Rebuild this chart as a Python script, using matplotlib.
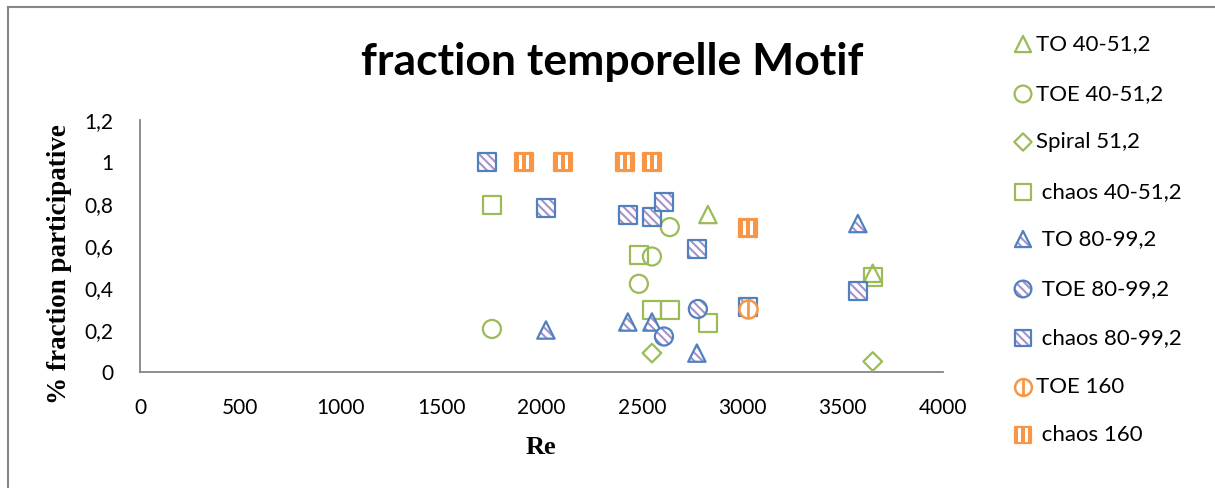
import matplotlib
matplotlib.use("Agg")
import matplotlib.pyplot as plt
from matplotlib.lines import Line2D
from matplotlib.markers import MarkerStyle
from matplotlib.path import Path

W, H = 1215, 488

# --- donnees (Re, fraction) ---
to_40_re = [2829, 3650]
to_40_fr = [0.75, 0.47]
toe_40_re = [1753, 2485, 2550, 2639]
toe_40_fr = [0.205, 0.42, 0.55, 0.69]
spiral_re = [2550, 3650]
spiral_fr = [0.09, 0.05]
chaos_40_re = [1753, 2485, 2550, 2639, 2829, 3650]
chaos_40_fr = [0.795, 0.557, 0.295, 0.295, 0.233, 0.452]
to_80_re = [2022, 2430, 2550, 2774, 3576]
to_80_fr = [0.20, 0.238, 0.238, 0.09, 0.707]
toe_80_re = [2779, 2610]
toe_80_fr = [0.30, 0.169]
chaos_80_re = [1728, 2022, 2430, 2550, 2610, 2774, 3028, 3576]
chaos_80_fr = [1.0, 0.78, 0.748, 0.738, 0.81, 0.585, 0.31, 0.385]
toe_160_re = [3028]
toe_160_fr = [0.30]
chaos_160_re = [1912, 2107, 2415, 2550, 3028]
chaos_160_fr = [1.0, 1.0, 1.0, 1.0, 0.686]

labels = ["TO 40-51,2", "TOE 40-51,2", "Spiral 51,2", " chaos 40-51,2",
          " TO 80-99,2", " TOE 80-99,2", " chaos 80-99,2", "TOE 160", " chaos 160"]

x_ticks = [0, 500, 1000, 1500, 2000, 2500, 3000, 3500, 4000]
x_tick_labels = ["0", "500", "1000", "1500", "2000", "2500", "3000", "3500", "4000"]
y_ticks = [0, 0.2, 0.4, 0.6, 0.8, 1.0, 1.2]
y_tick_labels = ["0", "0,2", "0,4", "0,6", "0,8", "1", "1,2"]

GREEN = "#9BBB59"
BLUE = "#4F81BD"
ORANGE = "#F79646"
PURPLE = "#A592CC"
GREY = "#868686"

plt.rcParams["font.family"] = ["Lato", "DejaVu Sans"]
plt.rcParams["hatch.linewidth"] = 1.5

# deux bandes verticales (marqueur "chaos 160")
stripe_verts = []
stripe_codes = []
for x0, x1 in [(-0.69, -0.25), (0.25, 0.69)]:
    stripe_verts += [(x0, -1), (x1, -1), (x1, 1), (x0, 1), (x0, -1)]
    stripe_codes += [Path.MOVETO, Path.LINETO, Path.LINETO, Path.LINETO, Path.CLOSEPOLY]
STRIPES = MarkerStyle(Path(stripe_verts, stripe_codes))


def draw_series(ax, xs, ys, kind, k=1.0, z=3):
    ms = {"tri": 12.5, "circ": 13.0, "diam": 9.5, "sq": 13.0}
    for x, y in zip(xs, ys):
        if kind.startswith("g_"):
            shape = kind[2:]
            m = {"tri": "^", "circ": "o", "diam": "D", "sq": "s"}[shape]
            ax.scatter([x], [y], s=(ms[shape] * k) ** 2, marker=m, facecolors="none",
                       edgecolors=GREEN, linewidths=1.6, zorder=z, clip_on=False)
        elif kind.startswith("b_"):
            shape = kind[2:]
            m = {"tri": "^", "circ": "o", "sq": "s"}[shape]
            s = (ms[shape] * k) ** 2
            ax.scatter([x], [y], s=s, marker=m, facecolors="white", edgecolors=PURPLE,
                       linewidths=0, hatch="\\\\\\\\", zorder=z, clip_on=False)
            ax.scatter([x], [y], s=s, marker=m, facecolors="none", edgecolors=BLUE,
                       linewidths=1.6, zorder=z, clip_on=False)
        elif kind == "o_circ":
            s = (ms["circ"] * k) ** 2
            ax.scatter([x], [y], s=s, marker="o", facecolors="white", edgecolors=ORANGE,
                       linewidths=1.8, zorder=z, clip_on=False)
            ax.scatter([x], [y], s=s * 0.9, marker="|", color=ORANGE,
                       linewidths=2.0, zorder=z, clip_on=False)
        elif kind == "o_sq":
            s = (ms["sq"] * k) ** 2
            ax.scatter([x], [y], s=s, marker="s", facecolors=ORANGE, edgecolors=ORANGE,
                       linewidths=1.6, zorder=z, clip_on=False)
            ax.scatter([x], [y], s=s * 0.64, marker=STRIPES, facecolors="white",
                       edgecolors="none", linewidths=0, zorder=z, clip_on=False)


series = [
    (to_40_re, to_40_fr, "g_tri"),
    (toe_40_re, toe_40_fr, "g_circ"),
    (spiral_re, spiral_fr, "g_diam"),
    (chaos_40_re, chaos_40_fr, "g_sq"),
    (to_80_re, to_80_fr, "b_tri"),
    (toe_80_re, toe_80_fr, "b_circ"),
    (chaos_80_re, chaos_80_fr, "b_sq"),
    (toe_160_re, toe_160_fr, "o_circ"),
    (chaos_160_re, chaos_160_fr, "o_sq"),
]

fig = plt.figure(figsize=(W / 100, H / 100), dpi=100)

# zone de trace
ax = fig.add_axes([140 / W, (H - 372) / H, (943 - 140) / W, (372 - 120) / H])
ax.set_xlim(0, 4000)
ax.set_ylim(0, 1.2)
for side in ["top", "right"]:
    ax.spines[side].set_visible(False)
for side in ["left", "bottom"]:
    ax.spines[side].set_color(GREY)
    ax.spines[side].set_linewidth(1.3)
ax.set_xticks(x_ticks, x_tick_labels)
ax.set_yticks(y_ticks, y_tick_labels)
ax.tick_params(axis="both", length=0, labelsize=15, colors="black")
ax.tick_params(axis="x", pad=19)
ax.tick_params(axis="y", pad=19)

for i, (xs, ys, kind) in enumerate(series):
    draw_series(ax, xs, ys, kind, z=3 + i)

fig.text(612 / W, 1 - 75 / H, "fraction temporelle Motif", fontsize=32,
         fontweight="bold", ha="center", va="baseline")
fig.text(541 / W, 1 - 448 / H, "Re", fontsize=19, fontweight="bold",
         family="Liberation Serif", ha="center", va="center")
fig.text(60 / W, 1 - 264 / H, "% fraction participative", fontsize=19.5, fontweight="bold",
         family="Liberation Serif", rotation=90, ha="center", va="center")

# legende a droite
lax = fig.add_axes([1000 / W, 0, 215 / W, 1])
lax.set_xlim(1000, 1215)
lax.set_ylim(H, 0)
lax.axis("off")
leg_y = [44, 94, 142, 192, 239, 289, 338, 387, 435]
for (xs, ys, kind), lab, y in zip(series, labels, leg_y):
    draw_series(lax, [1023], [y], kind, k=0.93)
    lax.text(1036, y, lab, fontsize=16, ha="left", va="center")

# cadre du graphique
fig.add_artist(Line2D([8 / W, 8 / W], [0, 1 - 7 / H], color=GREY,
                      linewidth=1.5, transform=fig.transFigure))
fig.add_artist(Line2D([8 / W, 1], [1 - 7 / H, 1 - 7 / H], color=GREY,
                      linewidth=1.5, transform=fig.transFigure))

fig.savefig("out.png", dpi=100)
